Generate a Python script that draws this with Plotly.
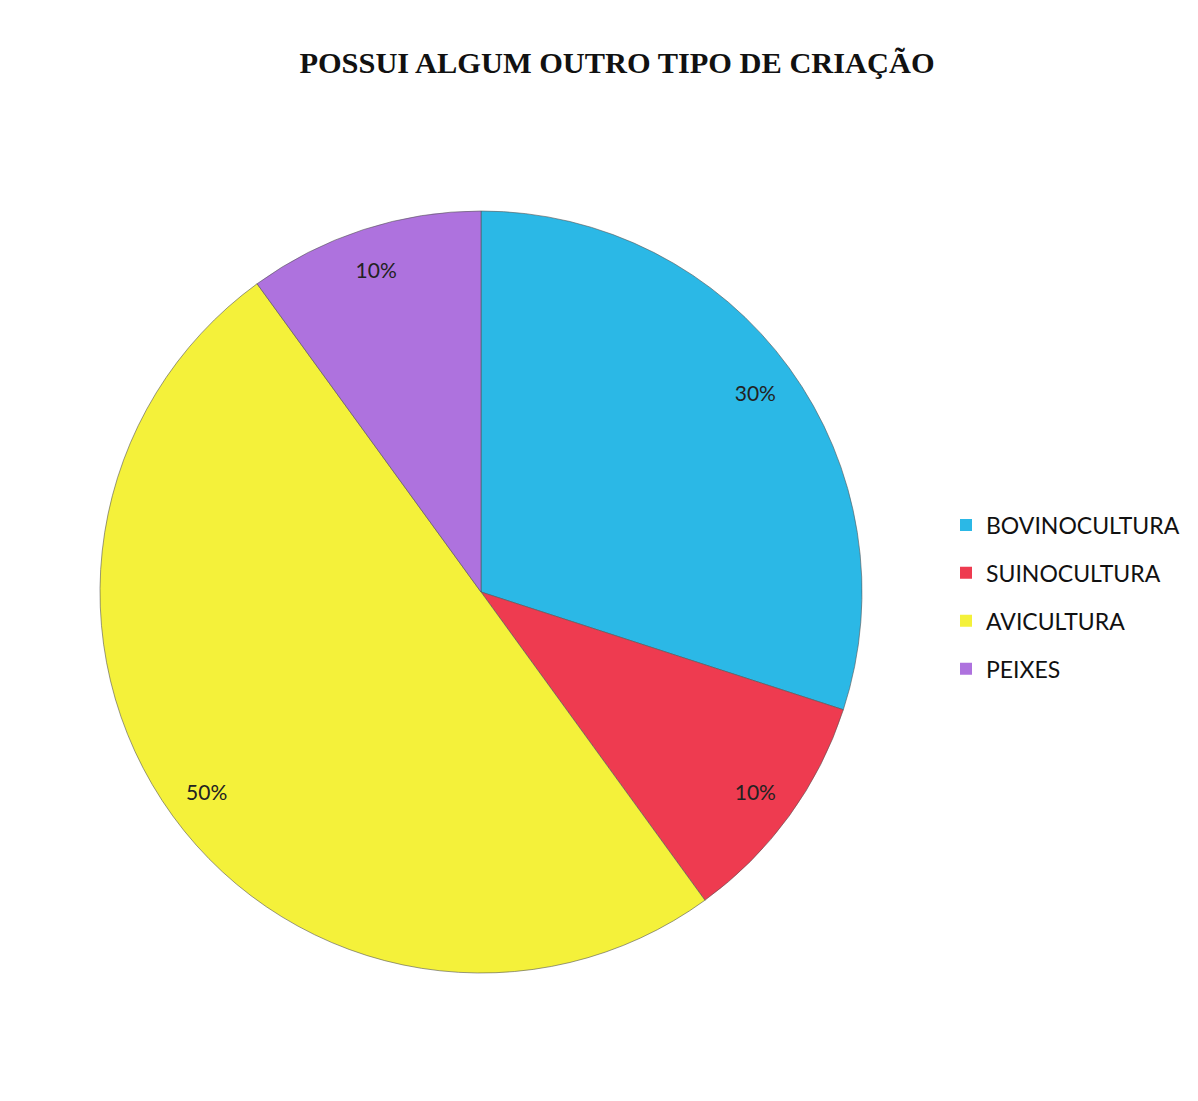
import plotly.graph_objects as go

categories = ["BOVINOCULTURA", "SUINOCULTURA", "AVICULTURA", "PEIXES"]
values = [30, 10, 50, 10]
colors = ["#2BB8E6", "#EE3B50", "#F4F13A", "#AE72DE"]

W, H = 1198, 1101
OFF = 8  # page body margin
dom = dict(x=[(100 - OFF) / W, (862 - OFF) / W], y=[1 - (973 - OFF) / H, 1 - (211 - OFF) / H])

fig = go.Figure()
# main pie
fig.add_trace(go.Pie(
    labels=categories, values=values, sort=False, direction="clockwise", rotation=0,
    marker=dict(colors=colors, line=dict(color="#555555", width=0.6)),
    textinfo="none", domain=dom, showlegend=False,
))
# transparent ring carrying the percentage labels near the rim
fig.add_trace(go.Pie(
    labels=categories, values=values, sort=False, direction="clockwise", rotation=0,
    hole=0.78,
    marker=dict(colors=["rgba(0,0,0,0)"] * 4, line=dict(width=0)),
    texttemplate="%{percent:.0%}", textposition="inside",
    insidetextorientation="horizontal",
    textfont=dict(family="Lato", size=21, color="#222222"),
    domain=dom, showlegend=False, hoverinfo="skip",
))
# legend entries
for name, col in zip(categories, colors):
    fig.add_trace(go.Scatter(
        x=[None], y=[None], mode="markers", name=name, legendgroup=name,
        marker=dict(symbol="square", size=12, color=col),
    ))

fig.update_layout(
    width=W, height=H,
    margin=dict(l=0, r=0, t=0, b=0),
    paper_bgcolor="white", plot_bgcolor="white",
    xaxis=dict(visible=False), yaxis=dict(visible=False),
    title=dict(
        text="<b>POSSUI ALGUM OUTRO TIPO DE CRIAÇÃO</b>",
        x=(617 - OFF) / W, xanchor="center", y=1 - (62 - OFF) / H, yanchor="middle",
        font=dict(family="Liberation Serif", size=30.4, color="#111111"),
    ),
    legend=dict(
        x=(946 - OFF) / W, xanchor="left", y=1 - (597 - OFF) / H, yanchor="middle",
        font=dict(family="Lato", size=23, color="#111111"),
        itemwidth=30, tracegroupgap=15,
        bgcolor="rgba(0,0,0,0)",
    ),
    uniformtext=dict(minsize=21, mode="show"),
)

fig.write_html("out.html")
